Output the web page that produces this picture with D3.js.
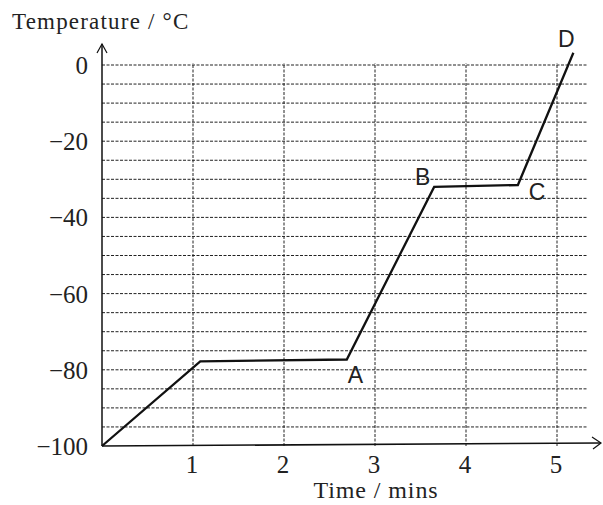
<!DOCTYPE html>
<html>
<head>
<meta charset="utf-8">
<script src="https://cdn.jsdelivr.net/npm/d3@7"></script>
<style>
  body { margin: 0; background: #fff; }
</style>
</head>
<body>
<div id="chart"></div>
<script>
// heating curve values
var times = [0, 1.08, 2.69, 3.65, 4.57, 5.18];
var temps = [-100, -77.8, -77.3, -32, -31.5, 3.2];
var pointLabels = ["A", "B", "C", "D"];
var labelTimes = [2.7, 3.44, 4.69, 5.01];
var labelTemps = [-83.5, -31.5, -35.4, 4.7];
var xTicks = [1, 2, 3, 4, 5];
var yTicks = [0, -20, -40, -60, -80, -100];

var width = 603, height = 505;

var x = d3.scaleLinear().domain([0, 5]).range([102, 557]);
var y = d3.scaleLinear().domain([-100, 0]).range([446, 65]);

var svg = d3.select("#chart").append("svg")
    .attr("width", width)
    .attr("height", height);

var serif = "'Liberation Serif', 'DejaVu Serif', serif";
var sans = "'Liberation Sans', Arial, sans-serif";

// horizontal dashed grid every 5 degrees
svg.append("g").selectAll("line")
    .data(d3.range(-95, 1, 5))
    .enter().append("line")
    .attr("x1", x(0)).attr("x2", 587)
    .attr("y1", function(d) { return y(d); })
    .attr("y2", function(d) { return y(d); })
    .style("stroke", "#222")
    .style("stroke-width", 1)
    .style("stroke-dasharray", "3,1.5");

// vertical dashed grid at each minute
svg.append("g").selectAll("line")
    .data(xTicks)
    .enter().append("line")
    .attr("x1", function(d) { return x(d); })
    .attr("x2", function(d) { return x(d); })
    .attr("y1", y(-100)).attr("y2", y(0) - 2)
    .style("stroke", "#222")
    .style("stroke-width", 1)
    .style("stroke-dasharray", "3,1.5");

// axes with arrow heads
svg.append("line")
    .attr("x1", x(0)).attr("x2", x(0))
    .attr("y1", y(-100)).attr("y2", 44)
    .style("stroke", "#111").style("stroke-width", 1.5);
svg.append("path")
    .attr("d", "M" + (x(0) - 5) + ",53 L" + x(0) + ",44 L" + (x(0) + 5) + ",53")
    .style("fill", "none").style("stroke", "#111").style("stroke-width", 1.2);

svg.append("line")
    .attr("x1", x(0)).attr("x2", 601)
    .attr("y1", y(-100)).attr("y2", y(-100) - 3)
    .style("stroke", "#111").style("stroke-width", 1.6);
svg.append("path")
    .attr("d", "M592," + (y(-100) - 9) + " L601," + (y(-100) - 3) + " L593," + (y(-100) + 3))
    .style("fill", "none").style("stroke", "#111").style("stroke-width", 1.2);

// tick labels
svg.append("g").selectAll("text")
    .data(yTicks)
    .enter().append("text")
    .attr("x", 88)
    .attr("y", function(d) { return y(d) + 9; })
    .attr("text-anchor", "end")
    .style("font-family", serif)
    .style("font-size", "25px")
    .style("fill", "#222")
    .text(function(d) { return d < 0 ? "\u2212" + Math.abs(d) : d; });

svg.append("g").selectAll("text")
    .data(xTicks)
    .enter().append("text")
    .attr("x", function(d) { return x(d) - 1; })
    .attr("y", 473)
    .attr("text-anchor", "middle")
    .style("font-family", serif)
    .style("font-size", "25px")
    .style("fill", "#222")
    .text(function(d) { return d; });

// axis titles
svg.append("text")
    .attr("x", 12).attr("y", 29)
    .style("font-family", serif)
    .style("font-size", "23px")
    .style("letter-spacing", "1.2px")
    .style("fill", "#222")
    .text("Temperature / \u00B0C");

svg.append("text")
    .attr("x", 376).attr("y", 498)
    .attr("text-anchor", "middle")
    .style("font-family", serif)
    .style("font-size", "24px")
    .style("letter-spacing", "0.9px")
    .style("fill", "#222")
    .text("Time / mins");

// the curve
var line = d3.line()
    .x(function(d) { return x(d[0]); })
    .y(function(d) { return y(d[1]); });

svg.append("path")
    .datum(d3.zip(times, temps))
    .attr("d", line)
    .style("fill", "none")
    .style("stroke", "#111")
    .style("stroke-width", 2.3)
    .style("stroke-linejoin", "miter");

// point letters
svg.append("g").selectAll("text")
    .data(pointLabels)
    .enter().append("text")
    .attr("x", function(d, i) { return x(labelTimes[i]); })
    .attr("y", function(d, i) { return y(labelTemps[i]); })
    .style("font-family", sans)
    .style("font-size", "23px")
    .style("fill", "#222")
    .text(function(d) { return d; });
</script>
</body>
</html>
